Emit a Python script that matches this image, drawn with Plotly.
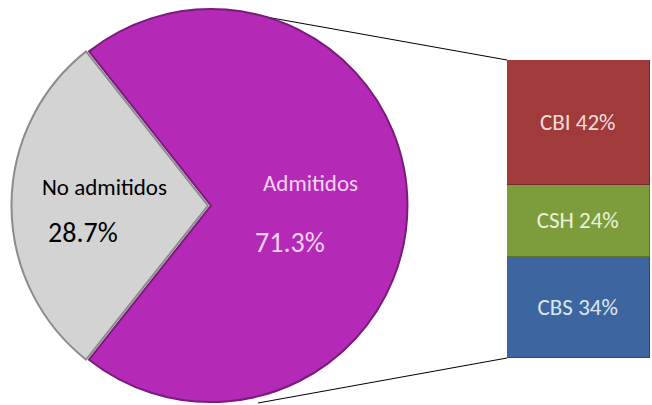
import plotly.graph_objects as go

# pie data
pie_labels = ['No admitidos', 'Admitidos']
pie_values = [28.7, 71.3]
pie_colors = ['#d3d3d3', '#b42ab6']
pie_edges = ['#8c8c8c', '#7a1a7c']

# breakdown of "Admitidos"
bar_labels = ['CBS', 'CSH', 'CBI']
bar_values = [34, 24, 42]
bar_colors = ['#3d66a0', '#7d9c3b', '#a03a3b']
bar_edges = ['#2a4a78', '#5c7528', '#78282a']
bar_text_colors = ['#dce6f2', '#ebf1de', '#f2dcdb']

W, H = 652, 405
FONT = 'Carlito, Lato, sans-serif'

# start the grey slice so that it is centred at 9 o'clock
rotation = 270 - 360 * pie_values[0] / sum(pie_values) / 2

fig = go.Figure()

fig.add_trace(go.Pie(
    labels=pie_labels,
    values=pie_values,
    sort=False,
    direction='clockwise',
    rotation=rotation,
    pull=[0, 0.015],
    marker=dict(colors=pie_colors, line=dict(color=pie_edges, width=2)),
    textinfo='none',
    hoverinfo='label+percent',
    domain=dict(x=[8 / W, 408 / W], y=[0, 0.985]),
    showlegend=False,
))

for lab, val, col, edge, tcol in zip(bar_labels, bar_values, bar_colors,
                                     bar_edges, bar_text_colors):
    fig.add_trace(go.Bar(
        x=[0], y=[val], width=1,
        marker=dict(color=col, line=dict(color=edge, width=1.5)),
        text=[f'{lab} {val}%'],
        textposition='inside',
        insidetextanchor='middle',
        textfont=dict(family=FONT, size=23, color=tcol),
        hoverinfo='skip',
        showlegend=False,
    ))


def px(x, y):
    return x / W, 1 - y / H


annotations = []
for (x, y), txt, size, col in [
    ((105, 187), pie_labels[0], 23, '#000000'),
    ((83, 232), f'{pie_values[0]}%', 28, '#000000'),
    ((310, 183), pie_labels[1], 23, '#f6d3f6'),
    ((290, 242), f'{pie_values[1]}%', 28, '#f6d3f6'),
]:
    ax, ay = px(x, y)
    annotations.append(dict(x=ax, y=ay, xref='paper', yref='paper',
                            xanchor='center', yanchor='middle',
                            text=txt, showarrow=False,
                            font=dict(family=FONT, size=size, color=col)))

# connector lines from the pie to the bar
shapes = []
for (x0, y0), (x1, y1) in [((255, 15), (507, 60)), ((258, 403), (507, 358))]:
    a0, b0 = px(x0, y0)
    a1, b1 = px(x1, y1)
    shapes.append(dict(type='line', xref='paper', yref='paper',
                       x0=a0, y0=b0, x1=a1, y1=b1, layer='below',
                       line=dict(color='#000000', width=1)))

fig.update_layout(
    width=W, height=H,
    margin=dict(l=0, r=0, t=0, b=0),
    paper_bgcolor='white',
    plot_bgcolor='white',
    barmode='stack',
    bargap=0,
    xaxis=dict(domain=[507 / W, 650 / W], range=[-0.5, 0.5], visible=False,
               fixedrange=True),
    yaxis=dict(domain=[1 - 358 / H, 1 - 60 / H], range=[0, 100],
               visible=False, fixedrange=True),
    annotations=annotations,
    shapes=shapes,
)

# the page body has a default margin; remove it so the chart sits at 0,0
fig.write_html('out.html',
               config={'displayModeBar': False},
               post_script="document.body.style.margin='0';"
                           "document.body.style.overflow='hidden';")
